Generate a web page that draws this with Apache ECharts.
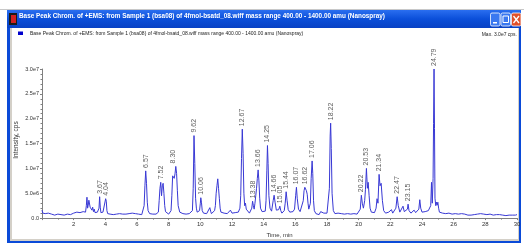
<!DOCTYPE html>
<html>
<head>
<meta charset="utf-8">
<script src="https://cdn.jsdelivr.net/npm/echarts@6/dist/echarts.min.js"></script>
<style>
html,body{margin:0;padding:0;background:#fff;}
#main{width:524px;height:243px;}
</style>
</head>
<body>
<div id="main"></div>
<script>
// 色谱图数据 (时间 min, 强度 x1e6 cps)
var trace = [
  [0.00,1.6],[0.05,1.0],[0.1,0.7],[0.2,0.9],[0.3,0.6],[0.4,1.0],[0.5,0.7],[0.6,0.8],[0.7,1.1],[0.8,0.6],
  [0.9,0.9],[1.0,0.8],[1.1,1.0],[1.2,0.7],[1.3,0.9],[1.4,0.6],[1.5,1.0],[1.6,0.8],[1.7,1.1],[1.8,0.7],
  [1.9,0.9],[2.0,1.0],[2.1,0.8],[2.2,1.2],[2.3,0.9],[2.4,1.1],[2.5,0.8],[2.6,1.3],[2.7,1.0],[2.75,1.2],
  [2.8,2.5],[2.84,4.2],[2.88,2.0],[2.92,2.6],[2.96,3.6],[3.0,4.0],[3.04,2.2],[3.1,2.4],[3.15,1.6],[3.2,2.2],
  [3.25,1.3],[3.3,1.8],[3.35,1.1],[3.4,1.4],[3.45,0.9],[3.5,1.2],[3.55,1.0],[3.6,2.0],[3.64,4.3],[3.68,2.2],
  [3.72,1.1],[3.8,0.9],[3.85,1.2],[3.9,0.8],[3.96,1.5],[4.02,3.9],[4.06,3.4],[4.1,1.5],[4.15,0.9],[4.2,0.7],
  [4.3,0.8],[4.4,0.6],[4.5,0.7],[4.6,0.6],[4.7,0.8],[4.8,0.7],[4.9,0.9],[5.0,0.7],[5.1,0.8],[5.2,1.1],
  [5.3,0.8],[5.4,0.7],[5.5,0.9],[5.6,0.8],[5.7,1.0],[5.8,0.7],[5.9,0.9],[6.0,1.0],[6.1,0.8],[6.2,0.9],
  [6.3,0.7],[6.4,1.0],[6.45,2.5],[6.5,6.5],[6.55,9.5],[6.6,7.0],[6.65,3.2],[6.7,1.5],[6.8,0.9],[6.9,0.7],
  [7.0,0.8],[7.1,0.6],[7.2,0.8],[7.3,0.7],[7.35,1.2],[7.4,3.5],[7.45,6.0],[7.5,7.2],[7.55,4.5],[7.6,6.5],
  [7.65,7.0],[7.7,5.0],[7.75,2.5],[7.8,1.3],[7.9,0.9],[8.0,0.8],[8.1,0.9],[8.15,1.5],[8.2,4.5],[8.25,8.5],
  [8.3,8.8],[8.35,8.0],[8.4,8.9],[8.45,10.4],[8.5,9.0],[8.55,5.5],[8.6,2.5],[8.7,1.2],[8.8,0.8],[8.9,0.9],
  [9.0,0.7],[9.1,0.8],[9.2,0.7],[9.3,0.9],[9.4,0.8],[9.5,1.5],[9.55,6.0],[9.6,16.6],[9.65,11.0],[9.7,4.0],
  [9.75,2.0],[9.8,1.2],[9.9,0.9],[9.95,1.5],[10.0,3.0],[10.03,4.1],[10.07,3.2],[10.12,1.5],[10.2,1.0],[10.3,1.3],
  [10.4,0.9],[10.5,1.2],[10.6,2.1],[10.65,1.4],[10.7,0.9],[10.8,1.1],[10.9,1.5],[10.95,2.5],[11.0,5.0],[11.05,6.5],
  [11.1,7.9],[11.15,6.0],[11.2,4.0],[11.25,2.0],[11.3,1.2],[11.4,1.5],[11.5,1.0],[11.6,1.3],[11.7,0.9],[11.8,1.2],
  [11.9,1.6],[12.0,1.0],[12.1,0.9],[12.2,1.1],[12.3,0.8],[12.4,1.2],[12.5,2.0],[12.55,4.5],[12.6,12.0],[12.65,17.9],
  [12.7,13.0],[12.75,5.0],[12.8,2.5],[12.85,3.0],[12.9,1.8],[13.0,1.5],[13.1,1.0],[13.2,1.3],[13.25,2.0],[13.3,3.4],
  [13.35,2.5],[13.4,1.8],[13.45,3.0],[13.5,4.5],[13.55,6.0],[13.6,8.0],[13.65,9.7],[13.7,7.5],[13.75,4.0],[13.8,2.0],
  [13.9,1.3],[14.0,1.1],[14.1,1.4],[14.15,3.5],[14.2,9.5],[14.24,14.6],[14.28,11.0],[14.33,4.5],[14.4,2.0],[14.5,1.4],
  [14.55,1.6],[14.6,3.5],[14.66,4.6],[14.72,3.2],[14.8,1.6],[14.9,1.2],[14.95,1.7],[15.02,2.4],[15.08,1.5],[15.15,1.0],
  [15.2,1.2],[15.3,1.5],[15.36,3.0],[15.42,5.3],[15.48,3.5],[15.55,1.7],[15.65,1.2],[15.75,1.0],[15.85,1.3],[15.95,1.8],
  [16.02,4.5],[16.07,6.2],[16.12,4.0],[16.2,1.8],[16.3,1.3],[16.4,1.6],[16.5,3.5],[16.55,5.5],[16.6,6.2],[16.65,5.8],
  [16.7,5.5],[16.75,4.8],[16.8,3.0],[16.85,1.8],[16.9,1.5],[16.95,3.0],[17.0,8.0],[17.06,11.5],[17.1,9.0],[17.15,3.5],
  [17.2,1.5],[17.3,0.9],[17.4,1.0],[17.5,0.7],[17.6,1.3],[17.65,1.0],[17.7,1.5],[17.8,1.0],[17.9,0.8],[18.0,1.0],
  [18.1,1.4],[18.15,6.0],[18.2,16.5],[18.23,19.1],[18.27,14.0],[18.32,5.0],[18.4,1.5],[18.5,0.9],[18.6,0.8],[18.7,1.0],
  [18.8,0.7],[18.9,0.9],[19.0,1.1],[19.1,0.8],[19.2,1.0],[19.3,0.9],[19.4,1.3],[19.5,0.8],[19.6,1.0],[19.7,0.9],
  [19.8,1.2],[19.9,0.8],[20.0,1.0],[20.1,1.8],[20.17,4.6],[20.23,3.0],[20.3,2.0],[20.38,3.5],[20.43,5.8],[20.49,10.0],
  [20.55,6.0],[20.6,7.2],[20.66,4.5],[20.72,2.0],[20.8,1.2],[20.9,1.0],[21.0,1.1],[21.1,2.0],[21.16,3.9],[21.22,3.0],
  [21.29,8.8],[21.35,6.5],[21.42,7.0],[21.5,3.5],[21.58,1.5],[21.7,1.0],[21.8,0.8],[21.9,1.2],[22.0,0.9],[22.07,1.7],
  [22.15,1.0],[22.25,1.3],[22.35,2.0],[22.43,4.3],[22.5,2.5],[22.6,1.2],[22.7,1.0],[22.8,2.4],[22.88,1.3],[23.0,1.1],
  [23.08,1.8],[23.12,2.8],[23.18,1.5],[23.3,1.0],[23.4,1.3],[23.5,1.6],[23.6,1.1],[23.7,1.4],[23.8,1.8],[23.86,3.7],
  [23.92,2.0],[24.0,1.2],[24.1,1.0],[24.2,1.3],[24.3,1.1],[24.4,1.5],[24.5,1.2],[24.55,2.5],[24.6,7.2],[24.65,3.0],
  [24.7,8.0],[24.73,19.0],[24.76,30.0],[24.79,18.0],[24.82,4.0],[24.87,2.5],[24.91,3.2],[24.96,2.6],[25.0,3.2],[25.05,2.0],
  [25.1,1.2],[25.2,0.9],[25.3,1.0],[25.4,0.7],[25.5,0.9],[25.6,0.8],[25.7,1.0],[25.8,0.6],[25.9,0.8],[26.0,0.7],
  [26.1,0.9],[26.2,0.6],[26.3,0.8],[26.4,0.7],[26.5,0.9],[26.6,0.6],[26.7,0.8],[26.8,0.7],[26.9,0.6],[27.0,0.8],
  [27.1,0.6],[27.2,0.9],[27.3,0.7],[27.4,0.6],[27.5,0.8],[27.6,0.7],[27.7,0.9],[27.8,0.6],[27.9,0.8],[28.0,1.1],
  [28.1,0.7],[28.2,0.6],[28.3,0.8],[28.4,0.7],[28.5,0.6],[28.6,0.8],[28.7,0.7],[28.8,0.6],[28.9,0.7],[29.0,0.8],
  [29.1,0.6],[29.2,0.7],[29.3,0.5],[29.4,0.7],[29.5,0.6],[29.6,0.8],[29.7,0.6],[29.8,0.7],[29.9,0.6],[30.0,0.7]
];

// 峰标注: 时间, 标注高度(x1e6), 文字
var peakTimes  = [3.64,4.02,6.55,7.50,8.26,9.60,10.03,12.65,13.30,13.65,14.24,14.66,15.02,15.42,16.07,16.60,17.06,18.23,20.17,20.49,21.29,22.43,23.12,24.76];
var peakHeights= [4.3, 3.9, 9.5, 7.2, 10.4,16.6,4.1,  17.9, 3.4,  9.7,  14.6, 4.6,  2.4,  5.3,  6.2,  6.2,  11.5, 19.1, 4.6,  10.0, 8.8,  4.3,  2.8,  30.0];
var peakLabels = ['3.67','4.04','6.57','7.52','8.30','9.62','10.06','12.67','13.38','13.66','14.25','14.66','15.05','15.44','16.07','16.62','17.06','18.22','20.22','20.53','21.34','22.47','23.15','24.79'];

var titleText = 'Base Peak Chrom. of +EMS: from Sample 1 (bsa08) of 4fmol-bsatd_08.wiff mass range 400.00 - 1400.00 amu (Nanospray)';
var maxText = 'Max. 3.0e7 cps.';

var chart = echarts.init(document.getElementById('main'));

var peakData = peakTimes.map(function(t, i){
    return {value:[t, peakHeights[i]], label:{formatter:peakLabels[i]}};
});

var option = {
    animation:false,
    backgroundColor:'#fff',
    graphic:[
        // 窗口边框
        {type:'rect', shape:{x:7,y:10,width:514,height:233}, style:{fill:'#0a4ad8'}, z:-10},
        {type:'rect', shape:{x:7,y:10,width:514,height:18}, style:{fill:new echarts.graphic.LinearGradient(0,0,0,1,[{offset:0,color:'#2a6ef0'},{offset:0.5,color:'#0b4fd9'},{offset:1,color:'#0841c4'}])}, z:-9},
        {type:'rect', shape:{x:10,y:28,width:509,height:213}, style:{fill:'#d4d0c8'}, z:-9},
        {type:'rect', shape:{x:12,y:28,width:506,height:211}, style:{fill:'#ffffff'}, z:-8},
        {type:'line', shape:{x1:0,y1:9.5,x2:524,y2:9.5}, style:{stroke:'#c8c8c8',lineWidth:1}, z:-8},
        // 标题图标
        {type:'rect', shape:{x:9,y:13,width:8,height:12}, style:{fill:'#1a1a1a'}, z:-7},
        {type:'rect', shape:{x:11,y:15,width:5,height:8}, style:{fill:'#d02020'}, z:-6},
        {type:'text', left:19, top:13, style:{text:titleText, fill:'#fff', font:'bold 6.4px "Liberation Sans"'}},
        // 按钮
        {type:'rect', shape:{x:490.5,y:13,width:9.5,height:13,r:1.5}, style:{fill:'#3a78f0',stroke:'#fff',lineWidth:0.8}},
        {type:'rect', shape:{x:493,y:22,width:4,height:1.5}, style:{fill:'#fff'}},
        {type:'rect', shape:{x:501,y:13,width:9.5,height:13,r:1.5}, style:{fill:'#3a78f0',stroke:'#fff',lineWidth:0.8}},
        {type:'rect', shape:{x:503,y:16,width:5.5,height:6.5}, style:{fill:'none',stroke:'#fff',lineWidth:1}},
        {type:'rect', shape:{x:511.5,y:13,width:9.5,height:13,r:1.5}, style:{fill:'#e0502a',stroke:'#fff',lineWidth:0.8}},
        {type:'line', shape:{x1:513.5,y1:16,x2:519,y2:23}, style:{stroke:'#fff',lineWidth:1.3}},
        {type:'line', shape:{x1:519,y1:16,x2:513.5,y2:23}, style:{stroke:'#fff',lineWidth:1.3}},
        // 图例
        {type:'rect', shape:{x:18,y:31.5,width:5,height:3.5}, style:{fill:'#0000cc'}},
        {type:'text', left:30, top:31.3, style:{text:titleText, fill:'#222', font:'5px "Liberation Sans"'}},
        {type:'text', right:7, top:32, style:{text:maxText, fill:'#222', font:'5px "Liberation Sans"'}},
        // Y轴标题
        {type:'text', x:16, y:140, rotation:Math.PI/2,
            style:{text:'Intensity, cps', fill:'#333', font:'6.5px "Liberation Sans"', align:'center', verticalAlign:'middle'}}
    ],
    grid:{left:42, right:7, top:69, bottom:19},
    xAxis:{
        type:'value', min:0, max:30, interval:2,
        name:'Time, min', nameLocation:'middle', nameGap:13,
        nameTextStyle:{fontSize:6, color:'#333', fontFamily:'Liberation Sans'},
        axisLine:{lineStyle:{color:'#808080'}},
        axisTick:{length:2, lineStyle:{color:'#808080'}},
        minorTick:{show:true, splitNumber:2, length:1.5, lineStyle:{color:'#808080'}},
        splitLine:{show:false},
        axisLabel:{fontSize:6, color:'#333', margin:3, fontFamily:'Liberation Sans',
            formatter:function(v){return v===0?'':String(v);}}
    },
    yAxis:{
        type:'value', min:0, max:30, interval:5,
        axisLine:{show:true, lineStyle:{color:'#808080'}},
        axisTick:{show:true, length:2, lineStyle:{color:'#808080'}},
        minorTick:{show:true, splitNumber:5, length:1.5, lineStyle:{color:'#808080'}},
        splitLine:{show:false},
        axisLabel:{fontSize:5.5, color:'#333', margin:3, fontFamily:'Liberation Sans',
            formatter:function(v){
                if(v===0) return '0.0';
                return (v*1e6).toExponential(1).replace('e+','e');
            }}
    },
    series:[
        {
            type:'line', data:trace, showSymbol:false, symbol:'none',
            lineStyle:{color:'#3838d4', width:1},
            z:2
        },
        {
            type:'scatter', data:peakData, symbolSize:0, silent:true,
            label:{show:true, position:'top', distance:3, rotate:90, align:'left', verticalAlign:'middle',
                fontSize:7, color:'#333', fontFamily:'Liberation Sans'},
            z:3
        }
    ]
};

chart.setOption(option);
</script>
</body>
</html>
